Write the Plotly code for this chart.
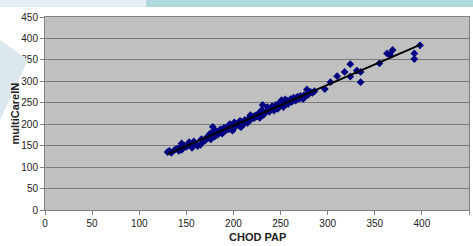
import numpy as np
import plotly.graph_objects as go

chod_pap = [130,132,134,138,140,142,143,145,145,148,150,152,153,155,156,158,160,162,165,166,
            168,170,172,174,175,176,178,178,180,181,183,185,186,188,190,190,192,194,195,196,
            197,198,199,200,201,202,203,205,206,207,208,210,211,212,214,215,216,218,219,220,
            222,223,225,226,228,229,230,231,232,233,235,236,237,238,240,241,243,244,245,246,
            247,248,249,250,251,252,253,254,255,256,257,258,260,261,262,264,265,266,268,270,
            271,272,274,275,276,278,279,280,282,284,286,297,303,310,318,324,324,331,335,335,
            355,363,366,369,392,392,398]
multicare_in = [135,138,133,141,143,138,146,155,140,150,147,152,158,151,145,160,155,149,152,165,
                160,162,170,168,178,165,194,182,171,185,175,180,188,178,183,192,186,195,188,200,
                193,198,185,190,204,195,199,202,196,208,193,205,200,210,207,203,213,221,212,217,
                214,220,218,224,215,228,233,245,222,226,230,240,235,229,236,242,232,238,245,241,
                236,248,243,250,256,246,240,252,258,249,254,247,256,259,252,262,258,255,264,260,
                266,262,259,268,265,281,268,271,275,273,277,282,298,312,322,340,311,325,322,298,
                342,365,362,373,365,352,384]

x_ticks = [0, 50, 100, 150, 200, 250, 300, 350, 400, 450]
y_ticks = [0, 50, 100, 150, 200, 250, 300, 350, 400, 450]

x = np.array(chod_pap, dtype=float)
y = np.array(multicare_in, dtype=float)
slope, intercept = np.polyfit(x, y, 1)
line_x = np.array([x.min(), x.max()])
line_y = slope * line_x + intercept

fig = go.Figure()
fig.add_trace(go.Scatter(x=chod_pap, y=multicare_in, mode="markers",
                         marker=dict(symbol="diamond", size=6, color="#000080",
                                     line=dict(width=0)),
                         showlegend=False))
fig.add_trace(go.Scatter(x=line_x, y=line_y, mode="lines",
                         line=dict(color="black", width=2), showlegend=False))

W, H = 473, 246
L, R, T, B = 45, 4, 17, 36
pw, ph = W - L - R, H - T - B

def px(xp):
    return (xp - L) / pw

def py(yp):
    return (H - B - yp) / ph

shapes = [
    # faint light blue top strip on left
    dict(type="rect", xref="paper", yref="paper", layer="above",
         x0=px(-2), x1=px(150), y0=py(7), y1=py(-2),
         fillcolor="#e3edf2", line=dict(width=0)),
    # teal band top
    dict(type="rect", xref="paper", yref="paper", layer="above",
         x0=px(146), x1=px(476), y0=py(7), y1=py(-2),
         fillcolor="#aed8dc", line=dict(width=0)),
    # light blue wedge on left edge
    dict(type="path", xref="paper", yref="paper", layer="above",
         path=f"M {px(0)},{py(40)} L {px(28)},{py(60)} L {px(0)},{py(120)} Z",
         fillcolor="#dce8ee", line=dict(width=0)),
]

annotations = [
    dict(text="<b>CHOD PAP</b>", xref="paper", yref="paper", x=0.5, y=py(237),
         xanchor="center", yanchor="middle", showarrow=False,
         font=dict(size=11, color="#222")),
    dict(text="<b>multiCareIN</b>", xref="paper", yref="paper", x=px(14), y=0.5,
         xanchor="center", yanchor="middle", showarrow=False, textangle=-90,
         font=dict(size=11, color="#222")),
]

fig.update_layout(
    width=W, height=H,
    margin=dict(l=L, r=R, t=T, b=B, autoexpand=False),
    paper_bgcolor="white",
    plot_bgcolor="#c0c0c0",
    font=dict(family="Liberation Sans, Arial, sans-serif", size=10, color="#222"),
    shapes=shapes,
    annotations=annotations,
    hovermode=False,
    xaxis=dict(range=[0, 450], tickvals=x_ticks, ticks="outside", ticklen=4,
               tickcolor="#808080", showgrid=False, zeroline=False, automargin=False,
               showline=True, linecolor="#808080", mirror=True),
    yaxis=dict(range=[0, 450], tickvals=y_ticks, ticks="outside", ticklen=4,
               tickcolor="#808080", showgrid=True, gridcolor="#7a7a7a", gridwidth=1,
               zeroline=False, showline=True, linecolor="#808080", mirror=True,
               automargin=False),
)

fig.write_html("out.html", config={"displayModeBar": False},
               post_script="document.body.style.margin='0';document.body.style.overflow='hidden';")
